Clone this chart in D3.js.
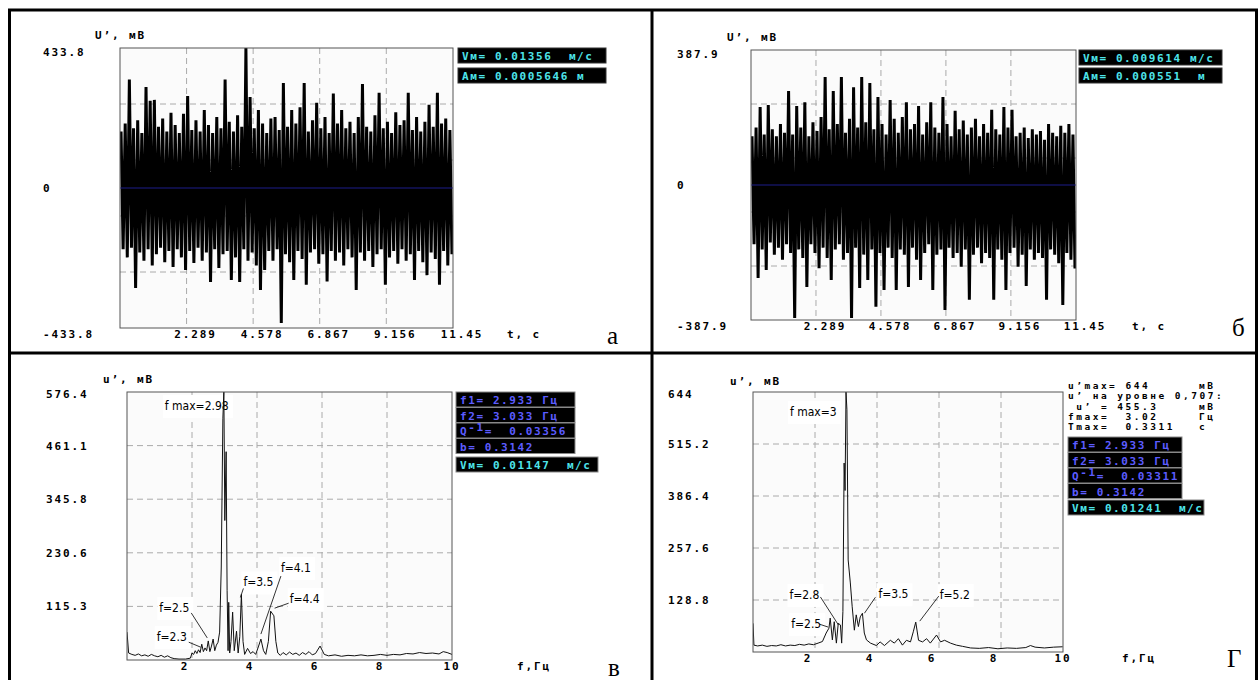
<!DOCTYPE html>
<html>
<head>
<meta charset="utf-8">
<script src="https://cdn.jsdelivr.net/npm/d3@7"></script>
<style>
  body { margin: 0; background: #fff; }
  svg { display: block; }
  .mono { font-family: "DejaVu Sans Mono", monospace; font-weight: bold; font-size: 11px; letter-spacing: 1.6px; white-space: pre; }
  .sum { font-family: "DejaVu Sans Mono", monospace; font-weight: bold; font-size: 9.5px; letter-spacing: 2.5px; white-space: pre; }
  .lab { font-family: "DejaVu Sans Mono", monospace; font-weight: bold; font-size: 11px; letter-spacing: 1.9px; white-space: pre; }
  .note { font-family: "Liberation Sans Narrow", "DejaVu Sans Condensed", sans-serif; font-size: 12px; }
  .letter { font-family: "Liberation Serif", serif; font-size: 25px; }
</style>
</head>
<body>
<script>
// --- data ---
// time records: upper / lower extreme of each oscillation, mV
var upA = [175,200,336,185,210,170,313,270,273,190, 215,175,233,195,170,230,285,180,210,175,
           242,195,170,220,185,336,205,175,225,190, 434,282,185,242,200,170,215,220,180,325,
           190,242,200,250,325,175,210,264,185,220, 170,293,200,242,185,205,170,220,322,190,
           175,225,295,185,205,170,235,195,210,295, 180,220,175,205,258,190,295,200,215,180];
var lowA = [-190,-215,-185,-310,-200,-225,-190,-240,-205,-185, -230,-195,-245,-190,-215,-254,-195,-232,-185,-225,
            -200,-291,-190,-248,-205,-195,-285,-215,-291,-190, -225,-200,-240,-316,-254,-195,-225,-190,-418,-205,
            -230,-285,-195,-220,-300,-200,-190,-235,-205,-290, -195,-225,-200,-240,-190,-215,-316,-200,-225,-195,
            -245,-205,-190,-300,-215,-195,-235,-190,-225,-205, -285,-195,-230,-270,-200,-220,-300,-195,-240,-205];
var upB = [140,165,224,145,230,160,140,175,150,270, 145,227,165,238,140,180,155,195,310,160,
           270,175,310,150,190,281,165,310,180,293, 160,253,175,145,244,190,150,195,238,160,
           175,227,145,180,238,165,150,253,175,140, 213,160,185,145,165,190,140,175,150,216,
           160,145,224,165,216,140,150,165,135,160, 145,155,130,175,150,140,170,150,175,145];
var lowB = [-170,-267,-185,-244,-165,-200,-180,-215,-170,-195, -382,-185,-210,-293,-170,-195,-239,-180,-210,-273,
            -185,-170,-215,-195,-382,-180,-296,-200,-273,-185, -350,-195,-302,-180,-210,-302,-185,-200,-293,-180,
            -215,-273,-195,-170,-302,-200,-185,-359,-180,-210, -195,-235,-185,-330,-200,-180,-225,-195,-210,-330,
            -185,-215,-302,-195,-180,-235,-200,-290,-185,-215, -195,-210,-330,-185,-200,-225,-345,-195,-215,-240];
var tTicks = [2.289, 4.578, 6.867, 9.156, 11.45];
var tLabels = ["2.289", "4.578", "6.867", "9.156", "11.45"];

// spectra: frequency (Hz) and amplitude (mV)
var fV = [0,0.05,0.15,0.25,0.35,0.45,0.55,0.65,0.75,0.85, 0.95,1.05,1.15,1.25,1.35,1.45,1.6,1.8,1.95,2.0,
          2.05,2.1,2.15,2.2,2.25,2.3,2.35,2.4,2.45,2.5, 2.55,2.6,2.65,2.7,2.75,2.8,2.85,2.9,2.95,2.98,
          3.01,3.05,3.08,3.11,3.13,3.16,3.2,3.25,3.3,3.37, 3.42,3.47,3.52,3.57,3.62,3.71,3.8,3.88,3.96,4.04,
          4.12,4.2,4.27,4.35,4.42,4.52,4.58,4.64,4.72,4.8, 4.9,5.0,5.1,5.2,5.3,5.4,5.5,5.6,5.7,5.8,
          5.94,6.07,6.2,6.4,6.6,6.8,7.0,7.2,7.4,7.6, 7.8,8.0,8.2,8.4,8.6,8.8,9.0,9.2,9.4,9.6, 9.73,9.85,10];
var ampV = [60,15,12,10,13,9,11,8,12,9, 7,10,6,9,5,3,2,2,4,15,
            12,20,14,22,16,34,18,26,20,41, 18,30,45,20,32,38,60,200,520,576.4,
            300,448,150,20,124,15,40,103,20,62, 15,50,141,40,12,25,14,18,12,28,
            45,20,12,40,105,95,40,15,10,16, 11,17,12,15,10,16,12,18,11,14,
            30,12,9,11,8,10,9,11,9,10, 12,10,12,11,14,13,16,14,15,13, 18,16,12];
var fG = [0,0.03,0.15,0.3,0.45,0.6,0.75,0.9,1.05,1.2, 1.35,1.5,1.65,1.8,1.95,2.1,2.24,2.36,2.45,2.49,
          2.56,2.62,2.69,2.75,2.82,2.86,2.9,2.94,2.97,3.0, 3.03,3.07,3.14,3.2,3.27,3.33,3.4,3.46,3.53,3.59,
          3.66,3.79,3.98,4.1,4.24,4.43,4.56,4.69,4.82,4.95, 5.08,5.17,5.25,5.34,5.47,5.6,5.72,5.92,6.05,6.18,
          6.37,6.56,6.76,7.02,7.3,7.6,7.9,8.2,8.5,8.8, 8.95,9.1,9.4,9.7,9.99];
var ampG = [71,17,15,17,14,16,15,18,15,17, 16,19,17,20,18,22,26,47,59,84,
            30,75,22,71,67,22,100,468,400,644, 600,228,171,112,54,92,63,87,96,47,
            30,22,16,25,16,29,22,33,17,29, 25,50,74,29,25,33,22,42,25,29,
            22,17,14,10,9,11,8,10,9,11, 16,12,10,12,13];
var fTicks = [2, 4, 6, 8, 10];
var yLabV = ["576.4", "461.1", "345.8", "230.6", "115.3"];
var yLabG = ["644", "515.2", "386.4", "257.6", "128.8"];

var infoA = ["Vм= 0.01356  м/с", "Aм= 0.0005646 м"];
var infoB = ["Vм= 0.009614 м/с", "Aм= 0.000551  м"];
var infoV = ["f1= 2.933 Гц", "f2= 3.033 Гц", "0.03356", "b= 0.3142"];
var infoG = ["f1= 2.933 Гц", "f2= 3.033 Гц", "0.03311", "b= 0.3142"];
var vmV = "Vм= 0.01147  м/с", vmG = "Vм= 0.01241  м/с";
var summaryG = [["u’max= 644", "мВ"], ["u’ на уровне 0,707:", ""], [" u’ = 455.3", "мВ"], ["fmax=  3.02", "Гц"], ["Tmax=  0.3311", "с"]];

// peak notes: anchor on the curve (f, a), text offset, leader offsets
var notesV = [
  {text: "f max=2.98", f: 2.98, a: 576.4, tx: -59, ty: 18},
  {text: "f=2.3", f: 2.3, a: 34, tx: -45, ty: -3, lead: [-13, -2, -1, 3]},
  {text: "f=2.5", f: 2.5, a: 41, tx: -49, ty: -29, lead: [-17, -28, -1, -3]},
  {text: "f=3.5", f: 3.52, a: 141, tx: 2, ty: -8, lead: [2, -6, -1, 3]},
  {text: "f=4.1", f: 4.12, a: 45, tx: 20, ty: -67, lead: [20, -63, 0, -5]},
  {text: "f=4.4", f: 4.42, a: 105, tx: 19, ty: -8, lead: [18, -8, 4, -3]}
];
var notesG = [
  {text: "f max=3", f: 3.0, a: 644, tx: -56, ty: 24},
  {text: "f=2.8", f: 2.82, a: 67, tx: -51, ty: -26, lead: [-20, -28, -2, 0]},
  {text: "f=2.5", f: 2.49, a: 84, tx: -39, ty: 10, lead: [-11, 6, -2, 9]},
  {text: "f=3.5", f: 3.53, a: 96, tx: 16, ty: -15, lead: [13, -16, 2, 0]},
  {text: "f=5.2", f: 5.25, a: 74, tx: 24, ty: -23, lead: [23, -26, 4, -1]}
];

var svg = d3.select("body").append("svg")
  .attr("width", 1258)
  .attr("height", 680)
  .attr("xml:space", "preserve");
var defs = svg.append("defs");

// table frame
var frame = [[8, 10, 1258, 10], [8, 353, 1258, 353], [9.5, 9, 9.5, 680], [652, 9, 652, 680], [1256.5, 9, 1256.5, 680]];
svg.selectAll(".frame")
  .data(frame)
  .enter()
  .append("line")
    .attr("x1", function(d){ return d[0] })
    .attr("y1", function(d){ return d[1] })
    .attr("x2", function(d){ return d[2] })
    .attr("y2", function(d){ return d[3] })
    .attr("stroke", "#000")
    .attr("stroke-width", 3);

function plotBox(g, p, id) {
  g.append("rect")
    .attr("x", p.left).attr("y", p.top)
    .attr("width", p.right - p.left).attr("height", p.bottom - p.top)
    .attr("fill", "#fbfbfb");
  defs.append("clipPath").attr("id", id)
    .append("rect")
    .attr("x", p.left).attr("y", p.top)
    .attr("width", p.right - p.left).attr("height", p.bottom - p.top);
}

function gridLines(g, xs, ys, p) {
  g.selectAll(".vg").data(xs).enter().append("line")
    .attr("x1", function(d){ return d }).attr("x2", function(d){ return d })
    .attr("y1", p.top).attr("y2", p.bottom);
  g.selectAll(".hg").data(ys).enter().append("line")
    .attr("y1", function(d){ return d }).attr("y2", function(d){ return d })
    .attr("x1", p.left).attr("x2", p.right);
  g.selectAll("line")
    .attr("stroke", "#aaa")
    .attr("stroke-dasharray", "6,4");
}

function infoBox(g, x, y, w, txt, color, edge) {
  g.append("rect")
    .attr("x", x).attr("y", y).attr("width", w).attr("height", 15)
    .attr("fill", "#000").attr("stroke", edge).attr("stroke-width", 1);
  return g.append("text")
    .attr("class", "mono")
    .attr("x", x + 4).attr("y", y + 12)
    .attr("fill", color)
    .text(txt);
}

function drawWave(p) {
  var x = d3.scaleLinear().domain([0, 11.45]).range([p.left, p.right]);
  var y = d3.scaleLinear().domain([-p.max, p.max]).range([p.bottom, p.top]);
  var g = svg.append("g");
  plotBox(g, p, p.id);

  var grid = g.append("g");
  gridLines(grid, tTicks.slice(0, 4).map(x), [-0.6, -0.2, 0.2, 0.6].map(function(k){ return y(k * p.max) }), p);

  // zigzag through the extremes
  var n = p.up.length, pts = [];
  p.up.forEach(function(u, i) {
    pts.push([(i + 0.25) / n * 11.45, u]);
    pts.push([(i + 0.75) / n * 11.45, p.low[i]]);
  });
  g.append("path")
    .datum(pts)
    .attr("clip-path", "url(#" + p.id + ")")
    .attr("d", d3.line().x(function(d){ return x(d[0]) }).y(function(d){ return y(d[1]) }))
    .attr("fill", "none")
    .attr("stroke", "#000")
    .attr("stroke-width", 3)
    .attr("stroke-linejoin", "bevel");

  g.append("line")
    .attr("x1", p.left).attr("x2", p.right)
    .attr("y1", y(0)).attr("y2", y(0))
    .attr("stroke", "#1c1c8a");

  g.append("rect")
    .attr("x", p.left).attr("y", p.top)
    .attr("width", p.right - p.left).attr("height", p.bottom - p.top)
    .attr("fill", "none").attr("stroke", "#555");

  // y labels
  g.append("text").attr("class", "lab").attr("x", p.labX).attr("y", y(p.max) + 8).text(p.max.toFixed(1));
  g.append("text").attr("class", "lab").attr("x", p.labX).attr("y", y(0) + 4).text("0");
  g.append("text").attr("class", "lab").attr("x", p.labX).attr("y", y(-p.max) + 10).text("-" + p.max.toFixed(1));
  g.append("text").attr("class", "lab").attr("x", p.titleX).attr("y", p.titleY).text("U’, мВ");

  g.selectAll(".xl")
    .data(tTicks)
    .enter()
    .append("text")
      .attr("class", "lab")
      .attr("x", function(d){ return x(d) + 9 })
      .attr("y", p.bottom + 10)
      .style("text-anchor", "middle")
      .text(function(d, i){ return tLabels[i] });
  g.append("text").attr("class", "lab").attr("x", p.tX).attr("y", p.bottom + 10).text("t, c");
  g.append("text").attr("class", "letter").attr("x", p.letterX).attr("y", p.letterY).text(p.letter);

  p.info.forEach(function(s, i) {
    infoBox(g, p.infoX, p.infoY[i], p.infoW, s, "#4ee4ea", "#333");
  });
}

function drawSpec(p) {
  var x = d3.scaleLinear().domain([0, 10]).range([p.left, p.right]);
  var y = d3.scaleLinear().domain([0, p.max]).range([p.bottom, p.top]);
  var g = svg.append("g");
  plotBox(g, p, p.id);

  var grid = g.append("g");
  gridLines(grid, fTicks.slice(0, 4).map(x), [0.2, 0.4, 0.6, 0.8].map(function(k){ return y(k * p.max) }), p);

  // white label patches
  var notes = g.append("g");
  p.notes.forEach(function(d) {
    var ax = x(d.f), ay = y(d.a);
    var t = notes.append("text")
      .attr("class", "note")
      .attr("x", ax + d.tx).attr("y", ay + d.ty)
      .text(d.text);
    var bb = t.node().getBBox();
    notes.insert("rect", "text")
      .attr("x", bb.x - 2).attr("y", bb.y - 4)
      .attr("width", bb.width + 6).attr("height", bb.height + 9)
      .attr("fill", "#fff");
    if (d.lead) {
      notes.append("line")
        .attr("x1", ax + d.lead[0]).attr("y1", ay + d.lead[1])
        .attr("x2", ax + d.lead[2]).attr("y2", ay + d.lead[3])
        .attr("stroke", "#000").attr("stroke-width", 0.8);
    }
  });

  g.append("path")
    .datum(p.freq.map(function(f, i){ return [f, p.amp[i]] }))
    .attr("clip-path", "url(#" + p.id + ")")
    .attr("d", d3.line().x(function(d){ return x(d[0]) }).y(function(d){ return y(d[1]) }))
    .attr("fill", "none")
    .attr("stroke", "#111")
    .attr("stroke-width", 1);

  g.append("rect")
    .attr("x", p.left).attr("y", p.top)
    .attr("width", p.right - p.left).attr("height", p.bottom - p.top)
    .attr("fill", "none").attr("stroke", "#555");

  g.selectAll(".yl")
    .data(p.yLabels)
    .enter()
    .append("text")
      .attr("class", "lab")
      .attr("x", p.labX)
      .attr("y", function(d, i){ return y(p.max * (1 - i * 0.2)) + (i === 0 ? 6 : 4) })
      .text(function(d){ return d });
  g.append("text").attr("class", "lab").attr("x", p.titleX).attr("y", p.titleY).text("u’, мВ");

  g.selectAll(".xl")
    .data(fTicks)
    .enter()
    .append("text")
      .attr("class", "lab")
      .attr("x", function(d){ return x(d) + (d === 10 ? 0 : -7) })
      .attr("y", p.bottom + 10)
      .style("text-anchor", "middle")
      .text(function(d){ return d });
  g.append("text").attr("class", "lab").attr("x", p.fX).attr("y", p.bottom + 10).text("f,Гц");
  g.append("text").attr("class", "letter").attr("x", p.letterX).attr("y", p.letterY).text(p.letter);

  // parameter boxes
  p.info.forEach(function(s, i) {
    var yy = p.infoY + i * 15.5;
    if (i === 2) {
      var t = infoBox(g, p.infoX, yy, p.infoW, "Q", "#5c5cff", "#888");
      t.append("tspan").attr("dy", -4).text("-1");
      t.append("tspan").attr("dy", 4).text("=  " + s);
    } else {
      infoBox(g, p.infoX, yy, p.infoW, s, "#5c5cff", "#888");
    }
  });
  infoBox(g, p.infoX, p.vmY, p.vmW, p.vm, "#4ee4ea", "#888");

  if (p.summary) {
    p.summary.forEach(function(r, i) {
      g.append("text").attr("class", "sum").attr("x", p.infoX).attr("y", p.sumY + i * 10.3).text(r[0]);
      g.append("text").attr("class", "sum").attr("x", p.infoX + 131).attr("y", p.sumY + i * 10.3).text(r[1]);
    });
  }
}

drawWave({id: "ca", left: 120, top: 48, right: 453, bottom: 328, max: 433.8, up: upA, low: lowA,
  labX: 43, titleX: 95, titleY: 39, tX: 507, letter: "а", letterX: 607, letterY: 344,
  info: infoA, infoX: 458, infoY: [48, 68], infoW: 148});
drawWave({id: "cb", left: 751, top: 50, right: 1076, bottom: 320, max: 387.9, up: upB, low: lowB,
  labX: 677, titleX: 727, titleY: 41, tX: 1132, letter: "б", letterX: 1232, letterY: 336,
  info: infoB, infoX: 1079, infoY: [50, 68], infoW: 143});
drawSpec({id: "cv", left: 127, top: 392, right: 452, bottom: 660, max: 576.4, freq: fV, amp: ampV,
  yLabels: yLabV, notes: notesV, labX: 46, titleX: 103, titleY: 383, fX: 517,
  letter: "в", letterX: 608, letterY: 676,
  info: infoV, infoX: 456, infoY: 392, infoW: 119, vm: vmV, vmY: 457, vmW: 142});
drawSpec({id: "cg", left: 753, top: 392, right: 1063, bottom: 652, max: 644, freq: fG, amp: ampG,
  yLabels: yLabG, notes: notesG, labX: 668, titleX: 730, titleY: 385, fX: 1122,
  letter: "Г", letterX: 1227, letterY: 667,
  info: infoG, infoX: 1068, infoY: 437, infoW: 114, vm: vmG, vmY: 500, vmW: 136,
  summary: summaryG, sumY: 389});
</script>
</body>
</html>
